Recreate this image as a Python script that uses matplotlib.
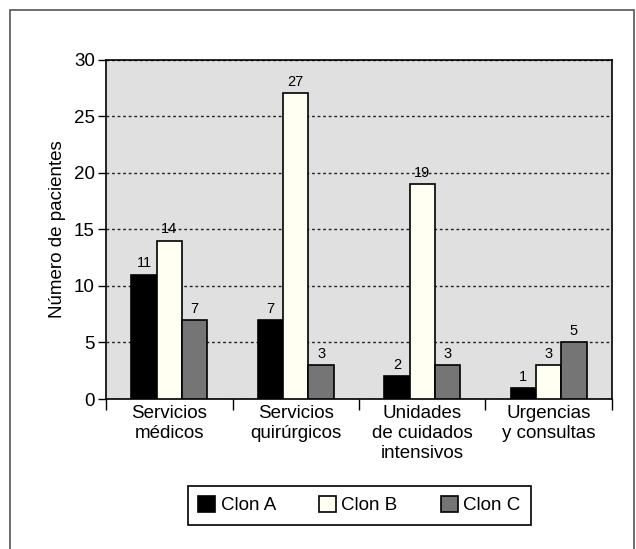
import numpy as np
import matplotlib.pyplot as plt
from matplotlib.patches import Rectangle

plt.rcParams['font.family'] = ['Liberation Sans', 'DejaVu Sans']

categories = ['Servicios\nmédicos', 'Servicios\nquirúrgicos',
              'Unidades\nde cuidados\nintensivos', 'Urgencias\ny consultas']
clon_a = [11, 7, 2, 1]
clon_b = [14, 27, 19, 3]
clon_c = [7, 3, 3, 5]
series_names = ['Clon A', 'Clon B', 'Clon C']
colors = ['#000000', '#fffff2', '#757575']

fig = plt.figure(figsize=(6.36, 5.49), dpi=100)
ax = fig.add_axes([0.1667, 0.2732, 0.7955, 0.6184])
ax.set_facecolor('#e0e0e0')

x = np.arange(len(categories))
width = 0.2
for i, (vals, name, c) in enumerate(zip([clon_a, clon_b, clon_c], series_names, colors)):
    bars = ax.bar(x + (i - 1) * width, vals, width, color=c, edgecolor='black',
                  linewidth=1.2, label=name, zorder=3)
    for b, v in zip(bars, vals):
        ax.annotate(str(v), (b.get_x() + b.get_width() / 2, v), xytext=(0, 3),
                    textcoords='offset points', ha='center', va='bottom', fontsize=10.5)

ax.set_xlim(-0.5, len(categories) - 0.5)
ax.set_ylim(0, 30)
ax.set_yticks(np.arange(0, 31, 5))
ax.yaxis.grid(True, linestyle=(0, (2, 2)), color='#222222', linewidth=1, zorder=1)
ax.tick_params(axis='y', length=6, width=1, labelsize=13.5, pad=2)

# category labels between boundary ticks
ax.set_xticks(np.arange(-0.5, len(categories), 1))
ax.set_xticklabels([])
ax.set_xticks(x, minor=True)
ax.set_xticklabels(categories, minor=True, fontsize=13.5, linespacing=1.25)
ax.tick_params(axis='x', which='major', length=8, width=1)
ax.tick_params(axis='x', which='minor', length=0, pad=4)

for s in ax.spines.values():
    s.set_linewidth(1.2)

ax.set_ylabel('Número de pacientes', fontsize=13.5, labelpad=6)

fig.legend(loc='center', bbox_to_anchor=(0.565, 0.080), ncol=3, frameon=True,
           fancybox=False, edgecolor='black', fontsize=13.5, handlelength=0.9,
           handleheight=0.9, columnspacing=2.3, handletextpad=0.3,
           borderpad=0.55, framealpha=1).get_frame().set_linewidth(1.2)

fig.patches.append(Rectangle((10 / 636, -0.1), 624 / 636, 1.1 - 10.5 / 549,
                             transform=fig.transFigure, fill=False,
                             edgecolor='#555555', linewidth=1.2, clip_on=False))

fig.savefig('out.png', dpi=100)
